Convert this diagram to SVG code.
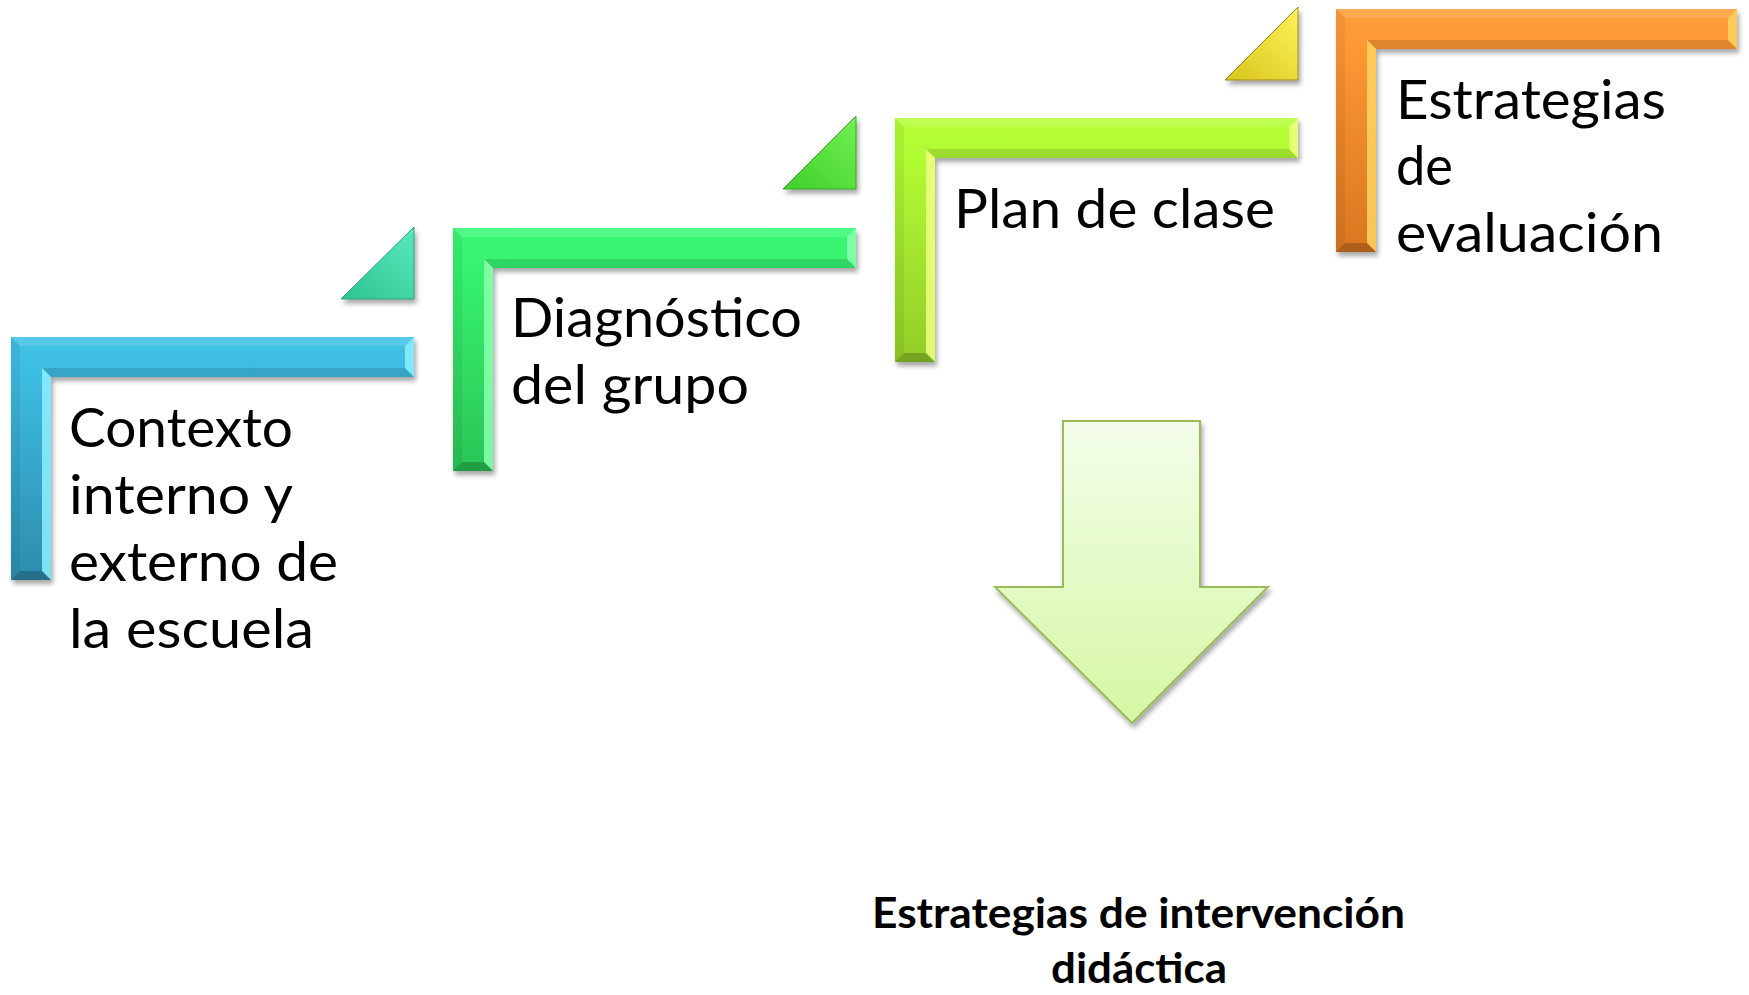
<svg xmlns="http://www.w3.org/2000/svg" width="1749" height="995" viewBox="0 0 1749 995">
  <defs>
    <filter id="sh" x="-10%" y="-10%" width="125%" height="130%">
      <feGaussianBlur in="SourceAlpha" stdDeviation="2.5"/>
      <feOffset dx="2" dy="4" result="o"/>
      <feComponentTransfer><feFuncA type="linear" slope="0.35"/></feComponentTransfer>
      <feMerge><feMergeNode/><feMergeNode in="SourceGraphic"/></feMerge>
    </filter>
    <linearGradient id="gBlue" x1="0" y1="0" x2="0" y2="1">
      <stop offset="0" stop-color="#41c2e7"/><stop offset="0.17" stop-color="#3dbbe1"/><stop offset="1" stop-color="#2d8cad"/>
    </linearGradient>
    <linearGradient id="gGreen" x1="0" y1="0" x2="0" y2="1">
      <stop offset="0" stop-color="#3af874"/><stop offset="0.17" stop-color="#36f26e"/><stop offset="1" stop-color="#2bc456"/>
    </linearGradient>
    <linearGradient id="gLime" x1="0" y1="0" x2="0" y2="1">
      <stop offset="0" stop-color="#b6ff38"/><stop offset="0.17" stop-color="#b1fb33"/><stop offset="1" stop-color="#93cc2a"/>
    </linearGradient>
    <linearGradient id="gOrange" x1="0" y1="0" x2="0" y2="1">
      <stop offset="0" stop-color="#ff9e3a"/><stop offset="0.17" stop-color="#fd9733"/><stop offset="1" stop-color="#d97622"/>
    </linearGradient>
    <linearGradient id="tTeal" x1="0" y1="1" x2="1" y2="0">
      <stop offset="0" stop-color="#2fc391"/><stop offset="1" stop-color="#5ae8bd"/>
    </linearGradient>
    <linearGradient id="tGreen" x1="0" y1="1" x2="1" y2="0">
      <stop offset="0" stop-color="#3fcf2c"/><stop offset="1" stop-color="#72f050"/>
    </linearGradient>
    <linearGradient id="tYellow" x1="0" y1="1" x2="1" y2="0">
      <stop offset="0" stop-color="#d8c41c"/><stop offset="1" stop-color="#fff25a"/>
    </linearGradient>
    <linearGradient id="gArrow" x1="0" y1="0" x2="0" y2="1">
      <stop offset="0" stop-color="#f4fdea"/><stop offset="1" stop-color="#d6f7a4"/>
    </linearGradient>
    <style>
      .lbl { font-family: Lato, "Liberation Sans", sans-serif; font-size: 54px; fill: #000; }
      .bold { font-family: Lato, "Liberation Sans", sans-serif; font-size: 42px; font-weight: bold; fill: #000; }
      .topS { fill: #ffffff; fill-opacity: 0.12; }
      .leftS { fill: #000000; fill-opacity: 0.06; }
      .botS { fill: #000000; fill-opacity: 0.12; }
      .endS { fill: #000000; fill-opacity: 0.2; }
      .hiB { fill: #8ef0ff; fill-opacity: 0.85; }
      .hiG { fill: #8affb0; fill-opacity: 0.85; }
      .hiL { fill: #f0ff80; fill-opacity: 0.85; }
      .hiO { fill: #ffd45e; fill-opacity: 0.85; }
    </style>
  </defs>
  <rect width="1749" height="995" fill="#ffffff"/>

  <g id="node-contexto">
    <polygon points="341,299 414,227 414,299" fill="url(#tTeal)" stroke="#2aa27e" stroke-width="1" filter="url(#sh)"/>
    <g transform="translate(11,337)">
      <path d="M0,0 H403 V40 H40 V243 H0 Z" fill="url(#gBlue)" filter="url(#sh)"/>
      <polygon class="topS" points="0,0 403,0 394,9 9,9"/>
      <polygon class="leftS" points="0,0 9,9 9,234 0,243"/>
      <polygon class="botS" points="31,31 394,31 403,40 40,40"/>
      <polygon class="hiB" points="31,31 40,40 40,243 31,234"/>
      <polygon class="hiB" points="394,9 403,0 403,40 394,31"/>
      <polygon class="endS" points="9,234 31,234 40,243 0,243"/>
    </g>
    <text class="lbl" x="69" y="447" textLength="224" lengthAdjust="spacingAndGlyphs">Contexto</text>
    <text class="lbl" x="69" y="514" textLength="224" lengthAdjust="spacingAndGlyphs">interno y</text>
    <text class="lbl" x="69" y="581" textLength="269" lengthAdjust="spacingAndGlyphs">externo de</text>
    <text class="lbl" x="69" y="648" textLength="245" lengthAdjust="spacingAndGlyphs">la escuela</text>
  </g>

  <g id="node-diagnostico">
    <polygon points="783,189 856,116 856,189" fill="url(#tGreen)" stroke="#36a326" stroke-width="1" filter="url(#sh)"/>
    <g transform="translate(453,228)">
      <path d="M0,0 H403 V40 H40 V243 H0 Z" fill="url(#gGreen)" filter="url(#sh)"/>
      <polygon class="topS" points="0,0 403,0 394,9 9,9"/>
      <polygon class="leftS" points="0,0 9,9 9,234 0,243"/>
      <polygon class="botS" points="31,31 394,31 403,40 40,40"/>
      <polygon class="hiG" points="31,31 40,40 40,243 31,234"/>
      <polygon class="hiG" points="394,9 403,0 403,40 394,31"/>
      <polygon class="endS" points="9,234 31,234 40,243 0,243"/>
    </g>
    <text class="lbl" x="511" y="337" textLength="291" lengthAdjust="spacingAndGlyphs">Diagnóstico</text>
    <text class="lbl" x="511" y="404" textLength="238" lengthAdjust="spacingAndGlyphs">del grupo</text>
  </g>

  <g id="node-plan">
    <polygon points="1225,80 1298,7 1298,80" fill="url(#tYellow)" stroke="#9c8c1c" stroke-width="1" filter="url(#sh)"/>
    <g transform="translate(895,118)">
      <path d="M0,0 H403 V40 H40 V244 H0 Z" fill="url(#gLime)" filter="url(#sh)"/>
      <polygon class="topS" points="0,0 403,0 394,9 9,9"/>
      <polygon class="leftS" points="0,0 9,9 9,235 0,244"/>
      <polygon class="botS" points="31,31 394,31 403,40 40,40"/>
      <polygon class="hiL" points="31,31 40,40 40,244 31,235"/>
      <polygon class="hiL" points="394,9 403,0 403,40 394,31"/>
      <polygon class="endS" points="9,235 31,235 40,244 0,244"/>
    </g>
    <text class="lbl" x="954" y="228" textLength="321" lengthAdjust="spacingAndGlyphs">Plan de clase</text>
  </g>

  <g id="node-evaluacion">
    <g transform="translate(1336,9)">
      <path d="M0,0 H401 V40 H40 V243 H0 Z" fill="url(#gOrange)" filter="url(#sh)"/>
      <polygon class="topS" points="0,0 401,0 392,9 9,9"/>
      <polygon class="leftS" points="0,0 9,9 9,234 0,243"/>
      <polygon class="botS" points="31,31 392,31 401,40 40,40"/>
      <polygon class="hiO" points="31,31 40,40 40,243 31,234"/>
      <polygon class="hiO" points="392,9 401,0 401,40 392,31"/>
      <polygon class="endS" points="9,234 31,234 40,243 0,243"/>
    </g>
    <text class="lbl" x="1396" y="119" textLength="270" lengthAdjust="spacingAndGlyphs">Estrategias</text>
    <text class="lbl" x="1396" y="185" textLength="57" lengthAdjust="spacingAndGlyphs">de</text>
    <text class="lbl" x="1396" y="252" textLength="267" lengthAdjust="spacingAndGlyphs">evaluación</text>
  </g>

  <g id="connectors">
    <polygon points="1063,421 1200,421 1200,587 1268,587 1132,723 995,587 1063,587" fill="url(#gArrow)" stroke="#9bbb59" stroke-width="2" stroke-linejoin="miter" filter="url(#sh)"/>
  </g>

  <g id="node-intervencion">
    <text class="bold" x="872" y="928" textLength="533" lengthAdjust="spacingAndGlyphs">Estrategias de intervención</text>
    <text class="bold" x="1051" y="983" textLength="176" lengthAdjust="spacingAndGlyphs">didáctica</text>
  </g>
</svg>
